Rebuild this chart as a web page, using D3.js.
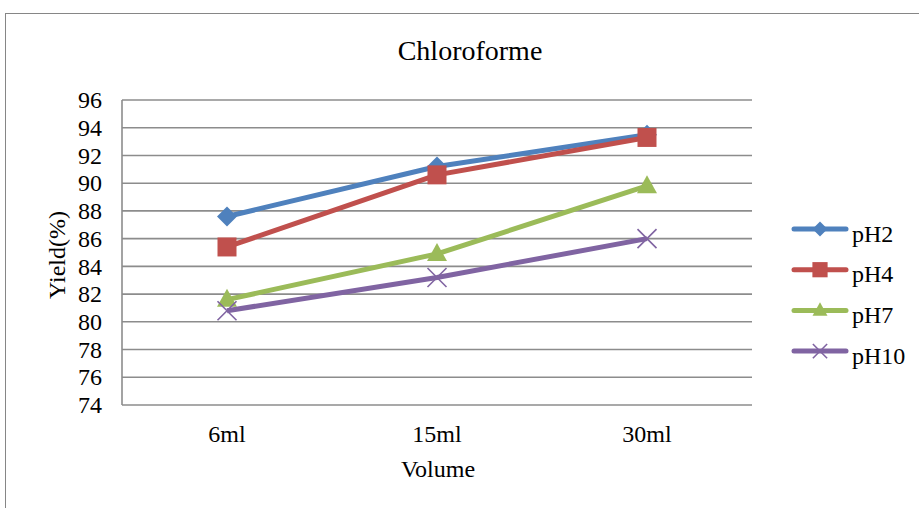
<!DOCTYPE html>
<html>
<head>
<meta charset="utf-8">
<script src="https://cdn.jsdelivr.net/npm/d3@7"></script>
<style>
  html, body { margin: 0; padding: 0; background: #fff; }
  svg text { font-family: "Liberation Serif", "Times New Roman", serif; fill: #000; }
</style>
</head>
<body>
<svg id="chart" width="919" height="508" font-family="Liberation Serif, serif"></svg>
<script>
// Volumes tested and yields (%) for each pH
const categories = ["6ml", "15ml", "30ml"];
const seriesNames = ["pH2", "pH4", "pH7", "pH10"];
const pH2 = [87.6, 91.2, 93.5];
const pH4 = [85.4, 90.6, 93.3];
const pH7 = [81.6, 84.9, 89.8];
const pH10 = [80.8, 83.2, 86.0];
const yTicks = [74, 76, 78, 80, 82, 84, 86, 88, 90, 92, 94, 96];

const colors = ["#4F81BD", "#C0504D", "#9BBB59", "#8064A2"];
const markers = ["diamond", "square", "triangle", "cross"];
const series = [pH2, pH4, pH7, pH10].map((values, i) => ({
  name: seriesNames[i], values, color: colors[i], marker: markers[i]
}));

const svg = d3.select("#chart");
const FONT = "'Liberation Serif', 'Times New Roman', serif";

// Outer chart frame
svg.append("rect")
  .attr("x", 5.5).attr("y", 13.5)
  .attr("width", 930).attr("height", 520)
  .attr("fill", "none").attr("stroke", "#868686").attr("stroke-width", 1);

const plot = { left: 122, right: 752, top: 100, bottom: 405 };

const x = d3.scaleBand().domain(categories).range([plot.left, plot.right]);
const y = d3.scaleLinear().domain([74, 96]).range([plot.bottom, plot.top]);

// Horizontal gridlines
svg.append("g").selectAll("line").data(yTicks).join("line")
  .attr("x1", plot.left).attr("x2", plot.right)
  .attr("y1", d => y(d)).attr("y2", d => y(d))
  .attr("stroke", "#8c8c8c").attr("stroke-width", 1.6);

// Left axis line
svg.append("line")
  .attr("x1", plot.left).attr("x2", plot.left)
  .attr("y1", plot.top).attr("y2", plot.bottom)
  .attr("stroke", "#8c8c8c").attr("stroke-width", 1.6);

// Y axis labels
const yAxis = d3.axisLeft(y).tickValues(yTicks).tickSize(0).tickPadding(20);
const gy = svg.append("g").attr("transform", `translate(${plot.left},0)`).call(yAxis);
gy.attr("font-family", null).attr("font-size", null);
gy.select(".domain").remove();
gy.selectAll("text")
  .style("font-family", FONT)
  .style("font-size", "24px").attr("fill", "#000");

// X axis labels
const xAxis = d3.axisBottom(x).tickSize(0).tickPadding(0);
const gx = svg.append("g").attr("transform", `translate(0,${plot.bottom})`).call(xAxis);
gx.attr("font-family", null).attr("font-size", null);
gx.select(".domain").remove();
gx.selectAll("text")
  .attr("dy", null).attr("y", 37)
  .style("font-family", FONT)
  .style("font-size", "24px").attr("fill", "#000");

// Title and axis titles
svg.append("text").attr("x", 470).attr("y", 60)
  .attr("text-anchor", "middle").style("font-family", FONT).style("font-size", "28px").text("Chloroforme");
svg.append("text").attr("x", 438).attr("y", 477)
  .attr("text-anchor", "middle").style("font-family", FONT).style("font-size", "24px").text("Volume");
svg.append("text")
  .attr("transform", "translate(65,255) rotate(-90)")
  .attr("text-anchor", "middle").style("font-family", FONT).style("font-size", "24px").text("Yield(%)");

const cx = c => x(c) + x.bandwidth() / 2;

function drawMarker(g, type, color, px, py, scale = 1) {
  if (type === "diamond") {
    const r = 10 * scale;
    g.append("path")
      .attr("d", `M${px},${py - r}L${px + r},${py}L${px},${py + r}L${px - r},${py}Z`)
      .attr("fill", color);
  } else if (type === "square") {
    const s = 19 * scale;
    g.append("rect").attr("x", px - s / 2).attr("y", py - s / 2)
      .attr("width", s).attr("height", s).attr("fill", color);
  } else if (type === "triangle") {
    const h = 18 * scale, w = 20 * scale;
    g.append("path")
      .attr("d", `M${px},${py - h * 0.6}L${px + w / 2},${py + h * 0.4}L${px - w / 2},${py + h * 0.4}Z`)
      .attr("fill", color);
  } else if (type === "cross") {
    const r = 9.5 * scale;
    g.append("path")
      .attr("d", `M${px - r},${py - r}L${px + r},${py + r}M${px - r},${py + r}L${px + r},${py - r}`)
      .attr("stroke", color).attr("stroke-width", 1.6).attr("fill", "none");
  }
}

// Series lines and markers
const line = d3.line().x((d, i) => cx(categories[i])).y(d => y(d));
series.forEach(s => {
  const g = svg.append("g");
  g.append("path").datum(s.values).attr("d", line)
    .attr("fill", "none").attr("stroke", s.color)
    .attr("stroke-width", 5).attr("stroke-linejoin", "round");
  s.values.forEach((v, i) => drawMarker(g, s.marker, s.color, cx(categories[i]), y(v)));
});

// Legend
const legend = svg.append("g");
series.forEach((s, i) => {
  const ly = 229 + i * 40.7;
  const g = legend.append("g");
  g.append("line").attr("x1", 794).attr("x2", 846).attr("y1", ly).attr("y2", ly)
    .attr("stroke", s.color).attr("stroke-width", 5).attr("stroke-linecap", "round");
  drawMarker(g, s.marker, s.color, 820, ly, s.marker === "square" ? 0.8 : 0.75);
  g.append("text").attr("x", 852).attr("y", ly + 12.5)
    .style("font-family", FONT).style("font-size", "24px").text(s.name);
});
</script>
</body>
</html>
